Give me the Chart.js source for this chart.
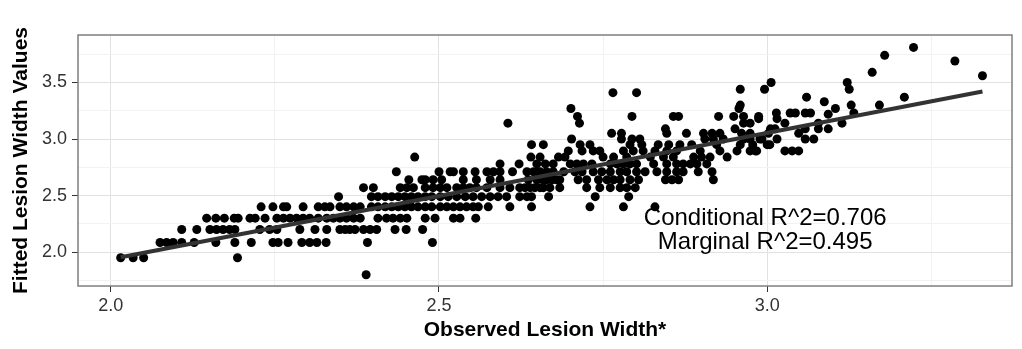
<!DOCTYPE html>
<html>
<head>
<meta charset="utf-8">
<script src="https://cdn.jsdelivr.net/npm/chart.js@4.4.1/dist/chart.umd.min.js"></script>
<style>
  html, body { margin: 0; padding: 0; background: #fff; }
  #wrap { width: 1022px; height: 349px; }
</style>
</head>
<body>
<div id="wrap"><canvas id="grafico" width="1022" height="349"></canvas></div>
<script>
// fitted value of each row of points, and the observed widths that sit on that row
const fittedLevels = [1.80, 1.95, 2.085, 2.20, 2.30, 2.40, 2.49, 2.57, 2.64, 2.71, 2.78, 2.84, 2.895, 2.95, 3.00, 3.05, 3.09, 3.14, 3.18, 3.20, 3.22, 3.23, 3.27, 3.30, 3.33, 3.37, 3.41, 3.44, 3.50, 3.56, 3.59, 3.69, 3.74, 3.81];
const observedByLevel = [
    [2.389],
    [2.015, 2.034, 2.050, 2.193],
    [2.075, 2.085, 2.095, 2.108, 2.127, 2.160, 2.189, 2.214, 2.247, 2.255, 2.270, 2.291, 2.303, 2.314, 2.328, 2.391, 2.490],
    [2.108, 2.131, 2.151, 2.161, 2.171, 2.181, 2.189, 2.227, 2.242, 2.253, 2.288, 2.311, 2.329, 2.349, 2.357, 2.364, 2.372, 2.385, 2.395, 2.405, 2.433, 2.450, 2.475],
    [2.146, 2.160, 2.173, 2.188, 2.194, 2.212, 2.220, 2.235, 2.253, 2.263, 2.273, 2.283, 2.293, 2.303, 2.316, 2.329, 2.339, 2.349, 2.359, 2.370, 2.380, 2.407, 2.420, 2.430, 2.441, 2.451, 2.479, 2.494, 2.522, 2.532, 2.556],
    [2.229, 2.247, 2.263, 2.268, 2.293, 2.316, 2.326, 2.334, 2.349, 2.359, 2.370, 2.380, 2.397, 2.407, 2.418, 2.428, 2.438, 2.448, 2.458, 2.468, 2.479, 2.489, 2.502, 2.512, 2.522, 2.532, 2.542, 2.552, 2.560, 2.575, 2.608, 2.641, 2.730, 2.781, 2.829],
    [2.347, 2.397, 2.407, 2.418, 2.428, 2.438, 2.448, 2.458, 2.468, 2.479, 2.489, 2.502, 2.514, 2.527, 2.540, 2.552, 2.565, 2.578, 2.590, 2.603, 2.623, 2.634, 2.641, 2.667, 2.738, 2.789],
    [2.385, 2.400, 2.441, 2.451, 2.461, 2.479, 2.491, 2.502, 2.512, 2.527, 2.537, 2.547, 2.557, 2.573, 2.593, 2.608, 2.623, 2.631, 2.639, 2.646, 2.654, 2.659, 2.669, 2.684, 2.725, 2.745, 2.761, 2.776, 2.786, 2.799],
    [2.454, 2.474, 2.479, 2.491, 2.504, 2.537, 2.557, 2.578, 2.593, 2.636, 2.649, 2.659, 2.664, 2.672, 2.679, 2.684, 2.712, 2.725, 2.743, 2.756, 2.766, 2.776, 2.791, 2.804, 2.845, 2.855, 2.865, 2.918],
    [2.435, 2.500, 2.517, 2.522, 2.537, 2.555, 2.573, 2.583, 2.593, 2.612, 2.634, 2.644, 2.651, 2.654, 2.664, 2.674, 2.690, 2.707, 2.718, 2.735, 2.748, 2.761, 2.776, 2.786, 2.801, 2.814, 2.832, 2.847, 2.862, 2.872, 2.895, 2.916],
    [2.593, 2.622, 2.649, 2.662, 2.674, 2.700, 2.710, 2.720, 2.733, 2.761, 2.771, 2.781, 2.791, 2.801, 2.827, 2.847, 2.862, 2.872, 2.883, 2.893, 2.908],
    [2.463, 2.640, 2.654, 2.682, 2.692, 2.750, 2.766, 2.786, 2.822, 2.842, 2.857, 2.888, 2.900, 2.913, 2.939],
    [2.697, 2.718, 2.735, 2.745, 2.781, 2.796, 2.811, 2.829, 2.847, 2.862, 2.898, 2.928, 2.954, 2.974, 2.982, 2.984, 3.027, 3.038, 3.048],
    [2.641, 2.659, 2.715, 2.730, 2.791, 2.809, 2.834, 2.850, 2.867, 2.885, 2.923, 2.959, 2.978, 3.000, 3.004],
    [2.702, 2.778, 2.794, 2.806, 2.905, 2.918, 2.933, 2.964, 2.974, 2.989, 2.992, 3.015, 3.058, 3.071],
    [2.763, 2.778, 2.847, 2.877, 2.903, 2.916, 2.928, 2.961, 2.974, 3.002, 3.048],
    [2.845, 2.951, 3.005, 3.012, 3.058, 3.078, 3.093],
    [2.605, 2.714, 2.964, 2.974, 3.027, 3.078, 3.114],
    [2.987, 3.015],
    [2.711, 2.794, 2.857, 2.865, 2.926, 2.949, 2.964, 2.987],
    [3.093],
    [3.014, 3.035, 3.043, 3.058, 3.066, 3.132],
    [2.701, 2.957, 3.104],
    [2.959, 3.128, 3.171],
    [3.087],
    [3.060, 3.209],
    [2.765, 2.801],
    [2.959, 2.996, 3.125],
    [3.006, 3.122],
    [3.328],
    [3.160],
    [3.286],
    [3.179],
    [3.223]
];
// fitted regression line ends
const fitLineX = [2.015, 3.328];
const fitLineY = [1.955, 3.42];
// ticks (major ones get a label)
const xTicks = [2.0, 2.25, 2.5, 2.75, 3.0, 3.25];
const yTicks = [1.75, 2.0, 2.25, 2.5, 2.75, 3.0, 3.25, 3.5, 3.75];
const majorX = [2.0, 2.5, 3.0];
const majorY = [2.0, 2.5, 3.0, 3.5];
const r2Labels = ['Conditional R^2=0.706', 'Marginal R^2=0.495'];

const fonte = '"Liberation Sans", Arial, sans-serif';

const pontos = [];
fittedLevels.forEach((y, i) => {
    observedByLevel[i].forEach(x => pontos.push({x: x, y: y}));
});
const linha = fitLineX.map((x, i) => ({x: x, y: fitLineY[i]}));

// panel border + R^2 text
const extras = {
    id: 'extras',
    afterDatasetsDraw(chart) {
        const {ctx, chartArea: a, scales} = chart;
        ctx.save();
        ctx.font = '24px ' + fonte;
        ctx.fillStyle = '#000';
        ctx.textAlign = 'center';
        ctx.textBaseline = 'middle';
        const cx = scales.x.getPixelForValue(2.997);
        ctx.fillText(r2Labels[0], cx, scales.y.getPixelForValue(2.30));
        ctx.fillText(r2Labels[1], cx, scales.y.getPixelForValue(2.09));
        ctx.strokeStyle = '#7f7f7f';
        ctx.lineWidth = 1.5;
        ctx.strokeRect(a.left, a.top, a.width, a.height);
        ctx.restore();
    }
};

const ctx = document.getElementById('grafico');

new Chart(ctx, {
    type: 'scatter',
    data: {
        datasets: [{
            type: 'line',
            data: linha,
            borderColor: '#333333',
            borderWidth: 4,
            pointRadius: 0,
            fill: false,
            order: 0
        }, {
            data: pontos,
            backgroundColor: '#000000',
            borderWidth: 0,
            pointRadius: 4.5,
            order: 1
        }]
    },
    options: {
        responsive: false,
        animation: false,
        layout: { padding: { top: 35, right: 10, left: 0, bottom: 0 } },
        plugins: {
            legend: { display: false },
            tooltip: { enabled: false }
        },
        scales: {
            x: {
                type: 'linear',
                min: 1.95,
                max: 3.373,
                afterBuildTicks: s => { s.ticks = xTicks.map(v => ({value: v})); },
                afterFit: s => { s.height = 63; },
                border: { display: false },
                grid: {
                    color: c => majorX.includes(c.tick.value) ? '#e2e2e2' : '#f2f2f2',
                    tickColor: c => majorX.includes(c.tick.value) ? '#333333' : 'rgba(0,0,0,0)',
                    tickLength: 6
                },
                ticks: {
                    autoSkip: false,
                    maxRotation: 0,
                    padding: 3,
                    color: '#333333',
                    font: { family: fonte, size: 18 },
                    callback: v => majorX.includes(v) ? v.toFixed(1) : ''
                },
                title: {
                    display: true,
                    text: 'Observed Lesion Width*',
                    color: '#000',
                    font: { family: fonte, size: 21, weight: 'bold' },
                    padding: { top: 0, bottom: 6 }
                }
            },
            y: {
                type: 'linear',
                min: 1.70,
                max: 3.92,
                afterBuildTicks: s => { s.ticks = yTicks.map(v => ({value: v})); },
                afterFit: s => { s.width = 78; },
                border: { display: false },
                grid: {
                    color: c => majorY.includes(c.tick.value) ? '#e2e2e2' : '#f2f2f2',
                    tickColor: c => majorY.includes(c.tick.value) ? '#333333' : 'rgba(0,0,0,0)',
                    tickLength: 6
                },
                ticks: {
                    autoSkip: false,
                    padding: 5,
                    color: '#333333',
                    font: { family: fonte, size: 18 },
                    callback: v => majorY.includes(v) ? v.toFixed(1) : ''
                },
                title: {
                    display: true,
                    text: 'Fitted Lesion Width Values',
                    color: '#000',
                    font: { family: fonte, size: 21, weight: 'bold' },
                    padding: { top: 9, bottom: 0 }
                }
            }
        }
    },
    plugins: [extras]
});
</script>
</body>
</html>
